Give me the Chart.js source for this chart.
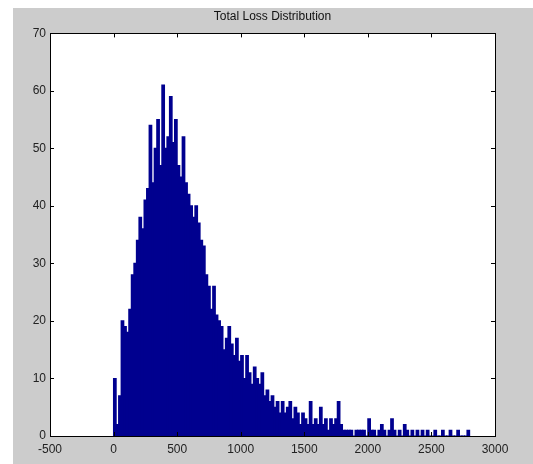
<!DOCTYPE html>
<html lang="en">
<head>
  <meta charset="UTF-8" />
  <title>Total Loss Distribution</title>
  <script src="https://cdn.jsdelivr.net/npm/chart.js"></script>
  <style>
    html, body { margin: 0; padding: 0; background: #fff; }
    #bg { position: absolute; left: 13px; top: 8px; width: 520px; height: 456px; background: #cccccc; }
    #chart { position: absolute; left: 0; top: 0; }
  </style>
</head>
<body>
  <div id="bg"></div>
  <canvas id="chart" width="533" height="464"></canvas>

  <script>
    // histogram bins: 20 wide, starting at 0
    const binStart = 0;
    const binWidth = 20;
    const counts = [
      10, 2, 7, 20, 19,    18, 22, 28, 30, 34,
      38, 36, 41, 43, 54,  44, 50, 55, 47, 61,
      50, 52, 59, 51, 55,  47, 45, 52, 44, 42,
      40, 38, 40, 37, 34,  33, 28, 26, 22, 26,
      21, 20, 19, 15, 17,  19, 16, 14, 17, 13,
      14, 10, 14, 11, 9,   12, 10, 9, 11, 7,
      8, 6, 7, 5, 6,       4, 6, 4, 5, 6,
      3, 5, 4, 2, 4,       3, 2, 6, 2, 3,
      2, 5, 2, 3, 1,       3, 2, 3, 6, 2,
      1, 1, 1, 1, 0,       1, 1, 1, 1, 0,
      3, 1, 1, 0, 1,       2, 1, 0, 1, 3,
      1, 0, 1, 0, 2,       1, 0, 1, 0, 1,
      0, 1, 0, 1, 0,       0, 1, 0, 0, 1,
      0, 0, 1, 0, 0,       1, 0, 0, 0, 1
    ];
    const xTicks = [-500, 0, 500, 1000, 1500, 2000, 2500, 3000];
    const yTicks = [0, 10, 20, 30, 40, 50, 60, 70];

    const points = counts.map((c, i) => ({ x: binStart + binWidth * (i + 0.5), y: c }));

    const tickFont = { family: "'Liberation Sans', Arial, sans-serif", size: 12 };

    // white axes box, black frame and inward tick marks like matlab
    const axesBox = {
      id: 'axesBox',
      beforeDraw(chart) {
        const { ctx, chartArea: a } = chart;
        ctx.save();
        ctx.fillStyle = '#fff';
        ctx.fillRect(a.left, a.top, a.right - a.left, a.bottom - a.top);
        ctx.restore();
      },
      afterDraw(chart) {
        const { ctx, chartArea: a, scales } = chart;
        ctx.save();
        ctx.strokeStyle = '#000';
        ctx.lineWidth = 1;
        ctx.beginPath();
        scales.x.ticks.forEach(t => {
          const px = Math.round(scales.x.getPixelForValue(t.value)) + 0.5;
          ctx.moveTo(px, a.bottom); ctx.lineTo(px, a.bottom - 4);
          ctx.moveTo(px, a.top); ctx.lineTo(px, a.top + 4);
        });
        scales.y.ticks.forEach(t => {
          const py = Math.round(scales.y.getPixelForValue(t.value)) + 0.5;
          ctx.moveTo(a.left, py); ctx.lineTo(a.left + 4, py);
          ctx.moveTo(a.right, py); ctx.lineTo(a.right - 4, py);
        });
        ctx.stroke();
        ctx.strokeRect(Math.round(a.left) + 0.5, Math.round(a.top) + 0.5,
                       Math.round(a.right - a.left), Math.round(a.bottom - a.top));
        ctx.restore();
      }
    };

    new Chart(document.getElementById('chart'), {
      type: 'bar',
      data: {
        datasets: [{
          label: 'Total Loss',
          data: points,
          backgroundColor: '#00008f',
          borderWidth: 0,
          inflateAmount: 0.6,
          barPercentage: 1,
          categoryPercentage: 1
        }]
      },
      options: {
        responsive: false,
        animation: false,
        devicePixelRatio: 1,
        layout: { padding: { left: 0, right: 38, top: 0, bottom: 0 } },
        plugins: {
          legend: { display: false },
          tooltip: { enabled: false },
          title: {
            display: true,
            fullSize: false,
            text: 'Total Loss Distribution',
            color: '#111',
            font: { family: tickFont.family, size: 12, weight: 'normal' },
            padding: { top: 9, bottom: 10 }
          }
        },
        scales: {
          x: {
            type: 'linear',
            offset: false,
            min: -500,
            max: 3000,
            afterBuildTicks: s => { s.ticks = xTicks.map(v => ({ value: v })); },
            afterFit: s => { s.height = 28; },
            ticks: { color: '#222', font: tickFont, padding: 6, maxRotation: 0, callback: v => String(v) },
            grid: { display: false, drawTicks: false },
            border: { display: false }
          },
          y: {
            min: 0,
            max: 70,
            afterBuildTicks: s => { s.ticks = yTicks.map(v => ({ value: v })); },
            afterFit: s => { s.width = 50; },
            ticks: { color: '#222', font: tickFont, padding: 4, callback: v => String(v) },
            grid: { display: false, drawTicks: false },
            border: { display: false }
          }
        }
      },
      plugins: [axesBox]
    });
  </script>
</body>
</html>
